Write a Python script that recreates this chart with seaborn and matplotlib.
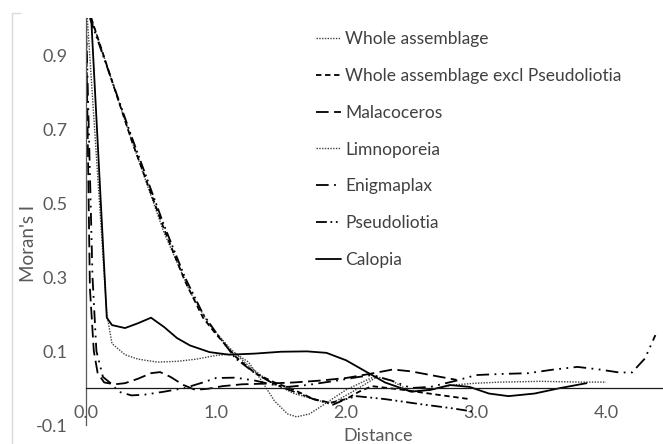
import numpy as np
import pandas as pd
import matplotlib
matplotlib.use("Agg")
import matplotlib.pyplot as plt
import seaborn as sns
from matplotlib.lines import Line2D

sns.set_style("white")
plt.rcParams['font.family'] = ['Lato', 'DejaVu Sans']

# ---- data ----
whole_x = [0.04, 0.35, 0.6, 0.8, 0.95, 1.1, 1.25, 1.4, 1.6, 1.8, 1.9, 2.05, 2.24, 2.35, 2.5, 2.65, 2.82, 3.0, 3.2, 3.5, 3.8, 4.0]
whole_y = [1.0, 0.67, 0.42, 0.26, 0.17, 0.11, 0.06, 0.02, -0.015, -0.035, -0.04, -0.01, 0.03, 0.02, -0.01, -0.005, 0.008, 0.013, 0.016, 0.018, 0.016, 0.016]

excl_x = [0.04, 0.35, 0.6, 0.76, 0.9, 0.99, 1.15, 1.3, 1.45, 1.6, 1.75, 1.88, 2.0, 2.1, 2.2, 2.44, 2.7, 2.95]
excl_y = [1.0, 0.67, 0.43, 0.29, 0.19, 0.15, 0.085, 0.04, 0.015, -0.005, -0.03, -0.04, -0.03, -0.01, 0.005, -0.005, -0.018, -0.03]

mala_x = [0.0, 0.03, 0.06, 0.09, 0.14, 0.22, 0.3, 0.4, 0.5, 0.57, 0.65, 0.75, 0.84, 0.94, 1.05, 1.2, 1.4, 1.6, 1.8, 2.0, 2.18, 2.36, 2.5, 2.65, 2.85]
mala_y = [1.0, 0.27, 0.1, 0.04, 0.015, 0.01, 0.013, 0.025, 0.04, 0.043, 0.03, 0.008, -0.005, -0.002, 0.005, 0.01, 0.012, 0.015, 0.02, 0.027, 0.038, 0.05, 0.045, 0.035, 0.022]

limno_x = [0.01, 0.16, 0.2, 0.3, 0.4, 0.55, 0.7, 0.85, 1.0, 1.15, 1.25, 1.35, 1.45, 1.55, 1.62, 1.72, 1.85, 2.0, 2.15, 2.25]
limno_y = [1.0, 0.2, 0.12, 0.09, 0.078, 0.07, 0.072, 0.078, 0.088, 0.093, 0.07, 0.02, -0.035, -0.07, -0.078, -0.07, -0.04, -0.005, 0.02, 0.035]

enig_x = [0.0, 0.05, 0.08, 0.13, 0.2, 0.25, 0.35, 0.45, 0.6, 0.76, 0.9, 1.0, 1.15, 1.3, 1.45, 1.55, 1.7, 1.93, 2.1, 2.2, 2.35, 2.5, 2.65, 2.85, 3.0, 3.2, 3.4, 3.6, 3.78, 3.95, 4.1, 4.2, 4.3, 4.38]
enig_y = [1.0, 0.3, 0.1, 0.03, 0.01, -0.01, -0.02, -0.018, -0.01, 0.0, 0.015, 0.027, 0.028, 0.02, 0.008, 0.003, 0.008, 0.02, 0.03, 0.035, 0.02, 0.0, 0.003, 0.02, 0.035, 0.038, 0.04, 0.05, 0.057, 0.05, 0.042, 0.042, 0.08, 0.143]

pseudo_x = [0.03, 0.35, 0.6, 0.76, 0.9, 1.0, 1.15, 1.3, 1.45, 1.6, 1.75, 1.9, 2.0, 2.08, 2.3, 2.6, 2.8, 3.0]
pseudo_y = [1.0, 0.68, 0.44, 0.30, 0.2, 0.15, 0.08, 0.04, 0.01, -0.01, -0.03, -0.045, -0.03, -0.022, -0.03, -0.045, -0.054, -0.065]

calo_x = [0.04, 0.16, 0.2, 0.3, 0.4, 0.5, 0.6, 0.7, 0.8, 0.95, 1.1, 1.3, 1.5, 1.7, 1.85, 2.0, 2.15, 2.3, 2.5, 2.65, 2.8, 2.95, 3.1, 3.25, 3.45, 3.65, 3.85]
calo_y = [1.0, 0.19, 0.17, 0.162, 0.175, 0.19, 0.165, 0.135, 0.115, 0.097, 0.09, 0.093, 0.098, 0.099, 0.095, 0.075, 0.045, 0.015, -0.01, -0.005, 0.008, 0.003, -0.015, -0.022, -0.015, 0.0, 0.013]

names = ["Whole assemblage", "Whole assemblage excl Pseudoliotia", "Malacoceros",
         "Limnoporeia", "Enigmaplax", "Pseudoliotia", "Calopia"]
xs = [whole_x, excl_x, mala_x, limno_x, enig_x, pseudo_x, calo_x]
ys = [whole_y, excl_y, mala_y, limno_y, enig_y, pseudo_y, calo_y]

yticks = [-0.1, 0.1, 0.3, 0.5, 0.7, 0.9]
xticks = [0.0, 1.0, 2.0, 3.0, 4.0]

styles = {
    "Whole assemblage": dict(linestyle=(0, (1, 1)), lw=1.0, color="#404040"),
    "Whole assemblage excl Pseudoliotia": dict(linestyle=(0, (3, 2)), lw=1.3, color="black"),
    "Malacoceros": dict(linestyle=(0, (7, 3)), lw=1.3, color="black"),
    "Limnoporeia": dict(linestyle=(0, (1, 1)), lw=1.0, color="#404040"),
    "Enigmaplax": dict(linestyle=(0, (7, 3, 1, 3, 1, 3)), lw=1.3, color="black"),
    "Pseudoliotia": dict(linestyle=(0, (6, 2, 1, 2, 1, 2)), lw=1.3, color="black"),
    "Calopia": dict(linestyle="-", lw=1.3, color="black"),
}

W, H = 663, 444
fig = plt.figure(figsize=(W / 100, H / 100), dpi=100)
ax = fig.add_axes([86 / W, 19 / H, 578.5 / W, 407 / H])

for name, x, y in zip(names, xs, ys):
    df = pd.DataFrame({"Distance": x, "I": y})
    sns.lineplot(data=df, x="Distance", y="I", ax=ax, sort=False, estimator=None,
                 label=name, **styles[name])

ax.set_xlim(0, 4.45)
ax.set_ylim(-0.1, 1.0)
ax.set_yticks(yticks)
ax.set_yticklabels([f"{v:.1f}" for v in yticks])
ax.set_xticks(xticks)
ax.set_xticklabels([f"{v:.1f}" for v in xticks])

ax.spines['top'].set_visible(False)
ax.spines['right'].set_visible(False)
ax.spines['bottom'].set_position(('data', 0))
ax.spines['bottom'].set_color('#1a1a1a')
ax.spines['bottom'].set_linewidth(0.9)
ax.spines['left'].set_position(('data', 0))
ax.spines['left'].set_color('#595959')
ax.spines['left'].set_linewidth(0.9)
ax.tick_params(axis='both', length=0, labelsize=13, labelcolor='#595959')
ax.tick_params(axis='y', pad=13)
ax.tick_params(axis='x', pad=12)
ax.set_facecolor('none')

ax.set_xlabel("Distance", fontsize=13, color='#595959')
ax.set_ylabel("Moran's I", fontsize=13.5, color='#595959')
ax.xaxis.set_label_coords(0.505, -0.008)
ax.yaxis.set_label_coords(-0.085, 0.445)

leg = ax.legend(loc='upper left', bbox_to_anchor=(316 / W, 1 - 31 / H),
                bbox_transform=fig.transFigure, frameon=False, fontsize=12.5,
                handlelength=1.45, handletextpad=0.23, labelspacing=1.2,
                borderaxespad=0, borderpad=0)
for t in leg.get_texts():
    t.set_color('#404040')

# light chart-area border (left and top stub)
fig.add_artist(Line2D([12 / W, 12 / W], [0, 1 - 13 / H], transform=fig.transFigure,
                      color='#d9d9d9', lw=1))
fig.add_artist(Line2D([12 / W, 20 / W], [1 - 13 / H, 1 - 13 / H], transform=fig.transFigure,
                      color='#d9d9d9', lw=1))

fig.savefig("out.png", dpi=100)
